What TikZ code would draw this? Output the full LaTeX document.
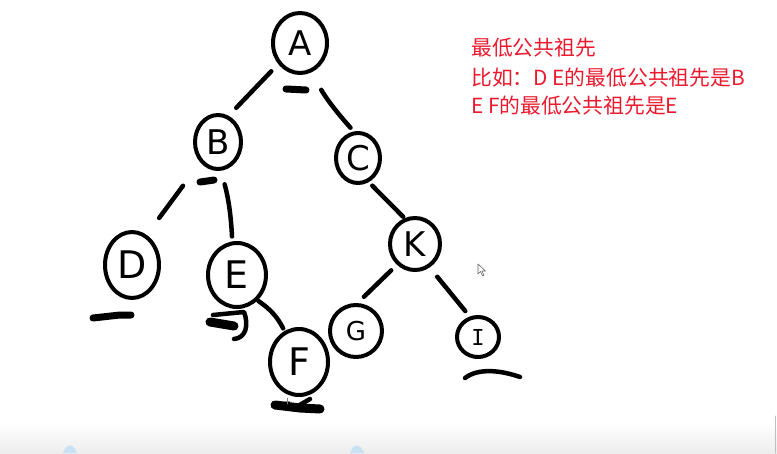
\documentclass[tikz,border=0pt]{standalone}
\usepackage{fontspec}
\usepackage{tikz}
\usetikzlibrary{shapes.geometric}
\newfontfamily\cjk{Noto Sans CJK SC}
\newfontfamily\letterfont{DejaVu Sans}
\newfontfamily\lettermono{DejaVu Sans Mono}
\definecolor{notered}{RGB}{235,25,45}
\definecolor{tipblue}{RGB}{200,225,245}

\begin{document}
\begin{tikzpicture}[x=1pt,y=-1pt,line cap=round,line join=round,
    vertex/.style={ellipse,draw,line width=4pt,inner sep=0pt,
      font=\letterfont\fontsize{34}{34}\selectfont},
    link/.style={line width=4.5pt},
    blot/.style={line width=7pt},
    note/.style={anchor=base west,inner sep=0pt,text=notered,
      font=\cjk\fontsize{20.8}{24}\selectfont}]
  \useasboundingbox (0,0) rectangle (777,453);

  % bottom band of the screen
  \shade[top color=white,bottom color=black!7] (0,422) rectangle (777,453);
  \fill[tipblue] (63,453) .. controls (67,443) and (73,443) .. (77,453) -- cycle;
  \fill[tipblue] (350,453) .. controls (354,443) and (360,443) .. (364,453) -- cycle;
  \draw[black!25,line width=1pt] (775,416) -- (775,453);

  % tree
  \node[vertex,minimum width=54pt,minimum height=60pt] (A) at (300,43) {A};
  \node[vertex,minimum width=46pt,minimum height=54pt] (B) at (218,142) {B};
  \node[vertex,minimum width=44pt,minimum height=50pt] (C) at (358,158) {C};
  \node[vertex,minimum width=54pt,minimum height=66pt,
    font=\letterfont\fontsize{38}{38}\selectfont] (D) at (132,265) {D};
  \node[vertex,minimum width=58pt,minimum height=64pt,
    font=\letterfont\fontsize{38}{38}\selectfont] (E) at (237,275) {E};
  \node[vertex,minimum width=58pt,minimum height=66pt,
    font=\letterfont\fontsize{38}{38}\selectfont] (F) at (299,362) {F};
  \node[vertex,minimum width=52pt,minimum height=52pt,
    font=\letterfont\fontsize{26}{26}\selectfont] (G) at (356,331) {G};
  \node[vertex,minimum width=50pt,minimum height=52pt] (K) at (415,244) {K};
  \node[vertex,minimum width=42pt,minimum height=40pt,
    font=\lettermono\fontsize{22}{22}\selectfont] (I) at (478,337) {I};

  \draw[link,shorten <=10pt,shorten >=11pt] (A.224) -- (B.68);
  \draw[link,shorten <=20pt,shorten >=5pt] (A.291) to[bend right=6] (C.99);
  \draw[link,shorten <=29pt,shorten >=21pt] (B.229) -- (D.64);
  \draw[link,shorten <=14pt,shorten >=5pt] (B.276) to[bend left=6] (E.98);
  \draw[link,shorten <=5pt,shorten >=2pt] (C.294) -- (K.112);
  \draw[link,shorten <=8pt,shorten >=9pt] (K.229) -- (G.87);
  \draw[link,shorten <=12pt,shorten >=7pt] (K.302) -- (I.112);
  \draw[link,shorten <=1pt,shorten >=3pt] (E.309) to[bend left=14] (F.115);

  % marks under the nodes
  \draw[blot] (286,89) -- (306,90);
  \draw[blot] (200,182) -- (214,180);
  \draw[blot] (93,318) -- (120,315) -- (131,315);
  \draw[blot,line width=9pt] (210,322) -- (234,326);
  \draw[link] (213,315) -- (244,312) .. controls (249,325) and (246,338) .. (234,339);
  \draw[blot,line width=9pt] (275,405) -- (300,408) -- (320,409);
  \draw[link] (298,406) -- (310,399);
  \draw[link] (465,378) .. controls (478,368) and (500,370) .. (520,377);

  % pointer and crosshair
  \draw[black!60,line width=0.6pt,fill=white] (478,264) -- (478,274) -- (480.5,271.5)
    -- (482.5,276) -- (484,275.3) -- (482,271) -- (485.5,271) -- cycle;
  \draw[black!50,line width=0.5pt] (284,401) -- (290,401) (287,398) -- (287,404);

  % notes
  \node[note] (title) at (471,55.5) {最低公共祖先};
  \node[note] (ex1) at (471,85) {比如：D E的最低公共祖先是B};
  \node[note] (ex2) at (471,113.5) {E F的最低公共祖先是E};
\end{tikzpicture}
\end{document}
